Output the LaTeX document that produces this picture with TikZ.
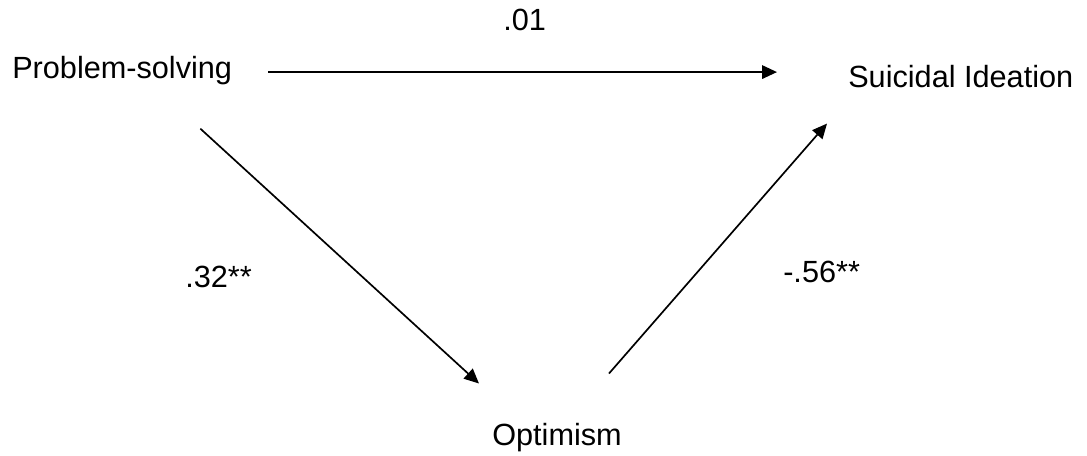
\documentclass[tikz,border=0pt]{standalone}
\usepackage{fontspec}
\setmainfont{Liberation Sans}
\usetikzlibrary{arrows.meta,calc}
\tikzset{
    var/.style={inner sep=0pt, anchor=base west, font=\fontsize{21.8}{26}\selectfont},
    coef/.style={inner sep=0pt, anchor=base west, font=\fontsize{21.8}{26}\selectfont},
    effect/.style={line width=1.2pt, -{Triangle[length=10.5pt,width=9.5pt]}},
}
\begin{document}
\begin{tikzpicture}[x=0.025cm,y=-0.025cm]
    \useasboundingbox (0,0) rectangle (1087,455);
    % variables
    \node[var] (ps) at (12,78) {Problem-solving};
    \node[var] (si) at (848,87) {Suicidal Ideation};
    \node[var] (opt) at (492,445) {Optimism};
    % coefficients
    \node[coef] (c01) at (503,30) {.01};
    \node[coef] (c32) at (185,287) {.32**};
    \node[coef] (c56) at (783,282) {-.56**};
    % paths
    \draw[effect] ($(ps.east)+(36,2)$) -- ($(ps.east -| si.west)+(-71,2)$);
    \draw[effect] ($(ps.south east)+(-32,44)$) -- ($(opt.north west)+(-13,-39)$);
    \draw[effect] ($(opt.north east)+(-13,-49)$) -- ($(si.south west)+(-21,36)$);
\end{tikzpicture}
\end{document}
